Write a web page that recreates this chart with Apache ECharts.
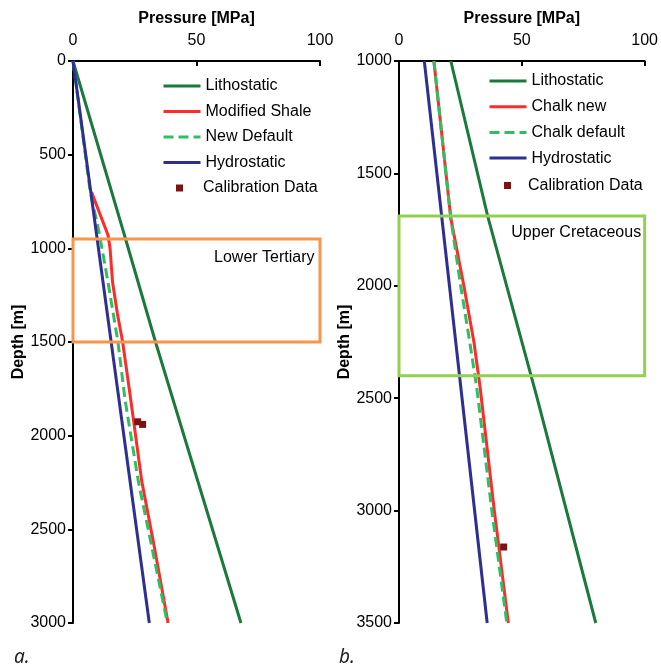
<!DOCTYPE html>
<html>
<head>
<meta charset="utf-8">
<script src="https://cdn.jsdelivr.net/npm/echarts@6/dist/echarts.min.js"></script>
<style>html,body{margin:0;padding:0;background:#fff}#c{width:661px;height:668px}</style>
</head>
<body>
<div id="c"></div>
<script>
// ---- Data (pressure MPa, depth m) ----
// Chart a
const aLithostatic = [[0, 0], [20.4, 910], [33.4, 1500], [68.0, 3000]];
const aModifiedShale = [[7.5, 700], [14.2, 930], [15.0, 1000], [16.0, 1180], [18.0, 1350], [20.1, 1500], [23.4, 1810], [27.8, 2240], [33.0, 2600], [38.5, 3000]];
const aNewDefault = [[0, 0], [7.0, 700], [10.5, 910], [14.3, 1190], [18.2, 1500], [21.1, 1810], [26.4, 2240], [32.0, 2600], [38.2, 3000]];
const aHydrostatic = [[0, 0], [30.9, 3000]];
const aCalibration = [[26.2, 1926], [28.2, 1940]];
const aZone = { name: 'Lower Tertiary', top: 950, bottom: 1500 };
// Chart b
const bLithostatic = [[21.1, 1000], [36.1, 1690], [56.0, 2490], [80.1, 3500]];
const bChalkNew = [[14.2, 1000], [21.1, 1700], [26.4, 2000], [30.5, 2250], [33.0, 2450], [38.8, 3000], [44.5, 3500]];
const bChalkDefault = [[14.2, 1000], [21.1, 1700], [25.1, 2000], [28.8, 2250], [31.6, 2450], [37.8, 3000], [43.9, 3500]];
const bHydrostatic = [[10.3, 1000], [35.9, 3500]];
const bCalibration = [[42.6, 3162]];
const bZone = { name: 'Upper Cretaceous', top: 1690, bottom: 2400 };
// Axes
const pressureTicks = { min: 0, max: 100, interval: 50 };
const aDepthTicks = { min: 0, max: 3000, interval: 500 };
const bDepthTicks = { min: 1000, max: 3500, interval: 500 };

const FONT = 'Liberation Sans, Arial, sans-serif';
const FS = 16;
const C = {
  litho: '#1a7a3c', red: '#ff2b2b', dflt: '#2fbf62', hydro: '#2e2f8f',
  calib: '#7a1414', orange: '#f7964a', lime: '#92d050'
};

function xAx(idx) {
  return {
    gridIndex: idx, type: 'value', position: 'top',
    min: pressureTicks.min, max: pressureTicks.max, interval: pressureTicks.interval,
    name: 'Pressure [MPa]', nameLocation: 'middle', nameGap: 34,
    nameTextStyle: { fontFamily: FONT, fontSize: FS, fontWeight: 'bold', color: '#000' },
    axisLine: { show: true, lineStyle: { color: '#000', width: 2 } },
    axisTick: { show: true, inside: true, length: 5, lineStyle: { color: '#000', width: 2 } },
    axisLabel: { fontFamily: FONT, fontSize: FS, color: '#000', margin: 12, formatter: v => String(v) },
    splitLine: { show: false }
  };
}
function yAx(idx, t, gap) {
  return {
    gridIndex: idx, type: 'value', inverse: true,
    min: t.min, max: t.max, interval: t.interval,
    name: 'Depth [m]', nameLocation: 'middle', nameGap: gap,
    nameTextStyle: { fontFamily: FONT, fontSize: FS, fontWeight: 'bold', color: '#000' },
    axisLine: { show: true, lineStyle: { color: '#000', width: 2 } },
    axisTick: { show: true, inside: false, length: 5, lineStyle: { color: '#000', width: 2 } },
    axisLabel: { fontFamily: FONT, fontSize: FS, color: '#000', margin: 7, formatter: v => String(v) },
    splitLine: { show: false }
  };
}
function line(name, data, idx, color, dashed, z) {
  return {
    name, type: 'line', xAxisIndex: idx, yAxisIndex: idx, data,
    symbol: 'none', z: z || 2,
    lineStyle: { color, width: 3, type: dashed ? [10, 5] : 'solid' },
    itemStyle: { color }
  };
}
function zone(idx, zn, color, dist) {
  return {
    type: 'line', xAxisIndex: idx, yAxisIndex: idx, data: [], z: 10, silent: true,
    markArea: {
      silent: true, z: 10,
      itemStyle: { color: 'rgba(0,0,0,0)', borderColor: color, borderWidth: 3 },
      label: { show: true, position: 'insideTopRight', distance: dist, padding: [5, 0, 0, 0], fontFamily: FONT, fontSize: 16, color: '#000' },
      data: [[{ name: zn.name, coord: [pressureTicks.min, zn.top] }, { coord: [pressureTicks.max, zn.bottom] }]]
    }
  };
}
function calib(data, idx) {
  return { name: 'Calibration Data', type: 'scatter', xAxisIndex: idx, yAxisIndex: idx, data,
    symbol: 'rect', symbolSize: 7, z: 6, itemStyle: { color: C.calib, opacity: 1 } };
}
const legText = { fontFamily: FONT, fontSize: FS, color: '#000' };
const legCommon = { orient: 'vertical', padding: 0, selectedMode: false,
  lineStyle: { width: 3 },
  itemStyle: { color: 'rgba(0,0,0,0)', borderWidth: 0 } };

const option = {
  animation: false,
  backgroundColor: '#fff',
  title: [
    { text: 'a.', left: 14, top: 648, padding: 0, textStyle: { fontFamily: 'Noto Sans', fontStyle: 'italic', fontWeight: 'normal', fontSize: 19, color: '#222' } },
    { text: 'b.', left: 339, top: 648, padding: 0, textStyle: { fontFamily: 'Noto Sans', fontStyle: 'italic', fontWeight: 'normal', fontSize: 19, color: '#222' } }
  ],
  grid: [
    { left: 73, top: 61, width: 247, height: 562, show: false },
    { left: 399, top: 61, width: 246, height: 562, show: false }
  ],
  xAxis: [xAx(0), xAx(1)],
  yAxis: [yAx(0, aDepthTicks, 46), yAx(1, bDepthTicks, 45)],
  legend: [
    Object.assign({ left: 162, top: 78, itemWidth: 37, itemHeight: 14, itemGap: 9.5, textStyle: legText,
      data: ['Lithostatic', 'Modified Shale', 'New Default', 'Hydrostatic'] }, legCommon),
    { orient: 'vertical', padding: 0, selectedMode: false, left: 176, top: 180, itemWidth: 7, itemHeight: 7,
      itemStyle: { color: C.calib, opacity: 1 },
      textStyle: Object.assign({ padding: [0, 0, 0, 15] }, legText),
      data: [{ name: 'Calibration Data', icon: 'rect' }] },
    Object.assign({ left: 488, top: 73, itemWidth: 37, itemHeight: 14, itemGap: 9.7, textStyle: legText,
      data: ['Lithostatic', 'Chalk new', 'Chalk default', 'Hydrostatic'] }, legCommon),
    { orient: 'vertical', padding: 0, selectedMode: false, left: 504, top: 177.5, itemWidth: 7, itemHeight: 7,
      itemStyle: { color: C.calib, opacity: 1 },
      textStyle: Object.assign({ padding: [0, 0, 0, 12] }, legText),
      data: [{ name: 'Calibration Data', icon: 'rect' }] }
  ],
  series: [
    line('Lithostatic', aLithostatic, 0, C.litho),
    line('Modified Shale', aModifiedShale, 0, C.red),
    line('New Default', aNewDefault, 0, C.dflt, true, 3),
    line('Hydrostatic', aHydrostatic, 0, C.hydro, false, 4),
    calib(aCalibration, 0),
    zone(0, aZone, C.orange, 7),
    line('Lithostatic', bLithostatic, 1, C.litho),
    line('Chalk new', bChalkNew, 1, C.red),
    line('Chalk default', bChalkDefault, 1, C.dflt, true, 3),
    line('Hydrostatic', bHydrostatic, 1, C.hydro, false, 4),
    calib(bCalibration, 1),
    zone(1, bZone, C.lime, 5)
  ]
};
const chart = echarts.init(document.getElementById('c'), null, { renderer: 'canvas' });
chart.setOption(option);
</script>
</body>
</html>
